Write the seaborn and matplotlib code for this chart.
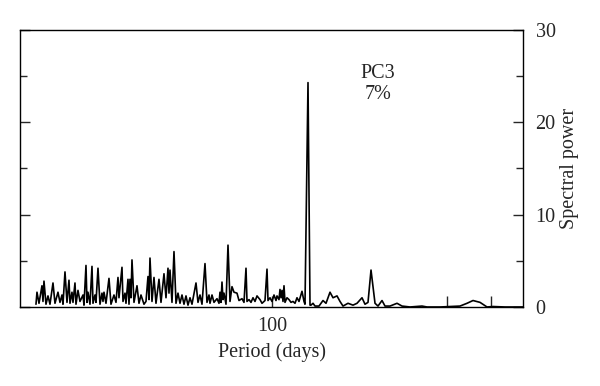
import numpy as np
import pandas as pd
import matplotlib
matplotlib.use("Agg")
import matplotlib.pyplot as plt
import seaborn as sns

# periodogram: log10(period in days) and spectral power
log_period = [
    1.056, 1.060, 1.068, 1.080, 1.084, 1.088, 1.096, 1.104, 1.112, 1.124,
    1.132, 1.144, 1.152, 1.160, 1.164, 1.172, 1.180, 1.188, 1.192, 1.200,
    1.204, 1.212, 1.216, 1.224, 1.232, 1.244, 1.248, 1.256, 1.260, 1.264,
    1.272, 1.280, 1.284, 1.292, 1.296, 1.304, 1.312, 1.320, 1.324, 1.328,
    1.336, 1.348, 1.356, 1.368, 1.376, 1.384, 1.388, 1.400, 1.404, 1.412,
    1.416, 1.424, 1.428, 1.432, 1.436, 1.440, 1.448, 1.460, 1.468, 1.476,
    1.488, 1.496, 1.504, 1.508, 1.512, 1.520, 1.528, 1.536, 1.548, 1.556,
    1.568, 1.576, 1.584, 1.588, 1.592, 1.600, 1.608, 1.616, 1.624, 1.632,
    1.640, 1.648, 1.656, 1.664, 1.672, 1.680, 1.696, 1.704, 1.712, 1.720,
    1.732, 1.740, 1.748, 1.752, 1.760, 1.768, 1.780, 1.788, 1.792, 1.796,
    1.800, 1.804, 1.808, 1.816, 1.824, 1.832, 1.840, 1.848, 1.860, 1.868,
    1.880, 1.888, 1.896, 1.900, 1.908, 1.916, 1.924, 1.932, 1.940, 1.952,
    1.960, 1.972, 1.980, 1.984, 1.992, 2.000, 2.008, 2.016, 2.020, 2.028,
    2.032, 2.036, 2.040, 2.044, 2.048, 2.052, 2.060, 2.068, 2.076, 2.084,
    2.092, 2.100, 2.108, 2.120, 2.128, 2.132, 2.144, 2.152, 2.156, 2.164,
    2.172, 2.180, 2.188, 2.204, 2.216, 2.232, 2.244, 2.260, 2.272, 2.284,
    2.304, 2.324, 2.340, 2.360, 2.372, 2.384, 2.396, 2.412, 2.424, 2.440,
    2.452, 2.472, 2.500, 2.520, 2.552, 2.600, 2.620, 2.672, 2.712, 2.752,
    2.780, 2.804, 2.832, 2.860, 2.884, 2.932, 3.004,
]
power = [
    0.3, 1.6, 0.4, 2.3, 0.6, 2.8, 0.3, 1.2, 0.3, 2.6,
    0.4, 1.6, 0.5, 1.3, 0.3, 3.8, 0.5, 2.9, 0.4, 1.6,
    0.5, 2.6, 0.3, 1.8, 0.6, 1.3, 0.2, 4.5, 0.5, 1.6,
    0.3, 4.4, 0.4, 1.3, 0.5, 4.2, 0.3, 1.5, 0.6, 1.6,
    0.4, 3.1, 0.3, 1.3, 0.5, 3.2, 1.0, 4.3, 0.6, 1.5,
    0.4, 3.0, 0.3, 3.0, 1.0, 5.1, 0.5, 2.3, 0.4, 1.3,
    0.3, 0.6, 3.3, 0.8, 5.3, 0.6, 3.2, 0.4, 3.0, 0.5,
    3.6, 1.0, 4.2, 1.5, 4.0, 0.5, 6.0, 0.4, 1.5, 0.4,
    1.3, 0.3, 1.2, 0.2, 1.0, 0.3, 2.6, 0.5, 1.3, 0.3,
    4.7, 0.5, 1.3, 0.4, 1.3, 0.5, 0.9, 0.4, 1.6, 0.5,
    2.7, 0.8, 1.5, 0.3, 6.7, 0.6, 2.2, 1.6, 1.5, 0.7,
    0.9, 0.5, 4.2, 0.6, 0.8, 0.5, 1.0, 0.6, 1.2, 0.8,
    0.4, 0.7, 4.1, 0.7, 1.0, 0.6, 1.3, 0.7, 1.2, 0.8,
    1.9, 1.0, 1.8, 0.6, 2.3, 0.5, 1.0, 0.8, 0.5, 0.6,
    0.4, 1.0, 0.6, 1.7, 0.6, 0.3, 24.3, 0.2, 0.2, 0.4,
    0.1, 0.1, 0.1, 0.7, 0.4, 1.6, 1.0, 1.2, 0.6, 0.1,
    0.4, 0.2, 0.4, 1.0, 0.3, 0.5, 4.0, 0.4, 0.1, 0.7,
    0.1, 0.1, 0.4, 0.1, 0.0, 0.1, 0.0, 0.0, 0.05, 0.1,
    0.4, 0.7, 0.5, 0.0, 0.05, 0.0, 0.0,
]

x_labeled_ticks = [100]
x_minor_ticks = [500, 750]
y_major_ticks = [0, 10, 20, 30]
y_minor_ticks = [5, 15, 25]

df = pd.DataFrame({"period": np.power(10.0, log_period), "power": power})

sns.set_style("ticks")
plt.rcParams["font.family"] = ["Liberation Serif", "DejaVu Serif"]
fs = 14.5

fig = plt.figure(figsize=(6, 3.86), dpi=100)
ax = fig.add_axes([0.0333, 0.2047, 0.8384, 0.7176])

sns.lineplot(data=df, x="period", y="power", color="black",
             linewidth=1.2, ax=ax, estimator=None, sort=False)

ax.set_xscale("log")
ax.set_xlim(10 ** 0.992, 10 ** 3.004)
ax.set_ylim(0, 30)

ax.set_xticks(x_labeled_ticks)
ax.set_xticklabels([str(t) for t in x_labeled_ticks])
ax.set_xticks(x_minor_ticks, minor=True)
ax.set_xticklabels([], minor=True)
ax.tick_params(axis="x", which="both", direction="in", length=8,
               width=1.0, labelsize=fs, pad=7)

ax.yaxis.tick_right()
ax.yaxis.set_label_position("right")
ax.set_yticks(y_major_ticks)
ax.set_yticks(y_minor_ticks, minor=True)
ax.tick_params(axis="y", which="major", direction="in", length=7,
               width=1.0, left=True, right=True, labelsize=fs, pad=9)
ax.tick_params(axis="y", which="minor", direction="in", length=5,
               width=1.0, left=True, right=True)

for side in ["left", "right", "top", "bottom"]:
    ax.spines[side].set_visible(True)
    ax.spines[side].set_linewidth(1.0)
    ax.spines[side].set_color("black")

ax.set_xlabel("Period (days)", fontsize=fs, labelpad=5)
ax.set_ylabel("Spectral power", fontsize=fs, labelpad=3)

ax.text(0.712, 0.805, "PC3\n7%", transform=ax.transAxes, ha="center",
        va="center", fontsize=fs, linespacing=1.2)

fig.savefig("out.png", dpi=100)
